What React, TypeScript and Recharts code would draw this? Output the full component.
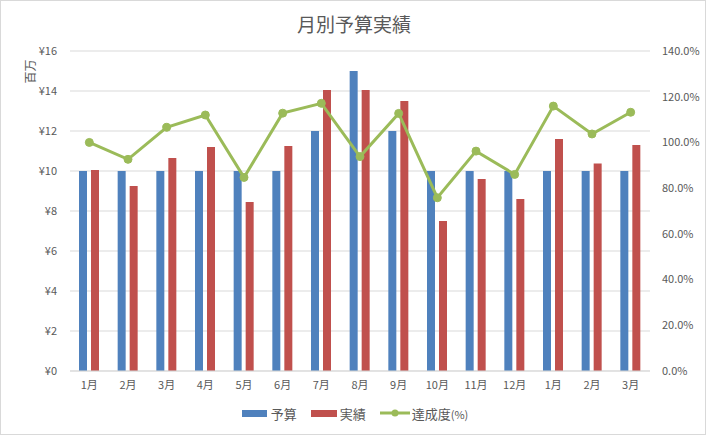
import { ComposedChart, Bar, Line, XAxis, YAxis, CartesianGrid, Legend } from 'recharts';

const months = ['1月', '2月', '3月', '4月', '5月', '6月', '7月', '8月', '9月', '10月', '11月', '12月', '1月', '2月', '3月'];
const budget = [10, 10, 10, 10, 10, 10, 12, 15, 12, 10, 10, 10, 10, 10, 10];
const actual = [10.05, 9.25, 10.65, 11.2, 8.45, 11.25, 14.05, 14.05, 13.5, 7.5, 9.6, 8.6, 11.6, 10.37, 11.3];
const rate = [100.0, 92.6, 106.6, 112.0, 84.7, 112.8, 117.1, 93.8, 112.7, 75.8, 96.2, 86.0, 115.9, 103.7, 113.2];
const yenTicks = [0, 2, 4, 6, 8, 10, 12, 14, 16];
const pctTicks = [0, 20, 40, 60, 80, 100, 120, 140];

const data = months.map((m, i) => ({ idx: i, month: m, 予算: budget[i], 実績: actual[i], rate: rate[i] }));

const font = '"Noto Sans CJK JP", "Noto Sans", sans-serif';
const textColor = '#595959';

function LegendContent() {
    return (
        <div style={{ display: 'flex', justifyContent: 'center', alignItems: 'center', fontSize: 13, color: textColor, fontFamily: font, height: 20, paddingLeft: 4 }}>
            <span style={{ display: 'inline-block', width: 25, height: 7, background: '#4F81BD', marginRight: 4 }} />
            <span style={{ marginRight: 14 }}>予算</span>
            <span style={{ display: 'inline-block', width: 26, height: 7, background: '#C0504D', marginRight: 3 }} />
            <span style={{ marginRight: 14 }}>実績</span>
            <svg width={30} height={10} style={{ marginRight: 2 }}>
                <line x1={0} y1={5} x2={30} y2={5} stroke="#9BBB59" strokeWidth={3} />
                <circle cx={15} cy={5} r={3.5} fill="#9BBB59" />
            </svg>
            <span>達成度<span style={{ fontSize: 11 }}>(%)</span></span>
        </div>
    );
}

export default function App() {
    return (
        <div style={{ position: 'absolute', left: 0, top: 0, width: 706, height: 435, background: '#fff', boxSizing: 'border-box', border: '1px solid #D9D9D9', fontFamily: font }}>
            <div style={{ position: 'absolute', top: 9, left: 0, width: 706, textAlign: 'center', fontSize: 19, color: textColor }}>月別予算実績</div>
            <div style={{ position: 'absolute', left: 16, top: 62, fontSize: 12, color: textColor, transform: 'rotate(-90deg)', transformOrigin: 'center' }}>百万</div>
            <ComposedChart width={706} height={435} data={data} margin={{ top: 51, right: 0, bottom: 14, left: 0 }} style={{ position: 'absolute', left: -1, top: -1 }}>
                <CartesianGrid stroke="#D9D9D9" vertical={false} yAxisId="left" />
                <XAxis dataKey="idx" tickFormatter={(v) => months[v]} height={30} tickLine={false} tickSize={0} tickMargin={10}
                    axisLine={{ stroke: '#D9D9D9' }} tick={{ fontSize: 11, fill: textColor, fontFamily: font }} interval={0} />
                <YAxis yAxisId="left" width={70} domain={[0, 16]} ticks={yenTicks} tickFormatter={(v) => `¥${v}`}
                    axisLine={false} tickLine={false} tickSize={0} tickMargin={13} tick={{ fontSize: 11, fill: textColor, fontFamily: font }} />
                <YAxis yAxisId="right" orientation="right" width={56} domain={[0, 140]} ticks={pctTicks} tickFormatter={(v) => `${v.toFixed(1)}%`}
                    axisLine={false} tickLine={false} tickSize={0} tickMargin={12} tick={{ fontSize: 11, fill: textColor, fontFamily: font, textAnchor: 'start' }} />
                <Legend content={<LegendContent />} wrapperStyle={{ height: 20, bottom: 12 }} />
                <Bar yAxisId="left" dataKey="予算" fill="#4F81BD" barSize={8} isAnimationActive={false} />
                <Bar yAxisId="left" dataKey="実績" fill="#C0504D" barSize={8} isAnimationActive={false} />
                <Line yAxisId="right" dataKey="rate" name="達成度(%)" stroke="#9BBB59" strokeWidth={3}
                    dot={{ r: 4, fill: '#9BBB59', stroke: '#9BBB59', strokeWidth: 1 }} isAnimationActive={false} />
            </ComposedChart>
        </div>
    );
}
